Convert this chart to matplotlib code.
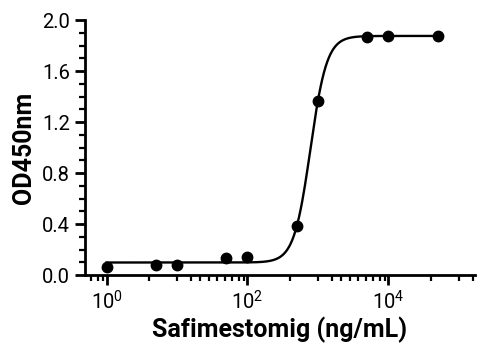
import numpy as np
import matplotlib
matplotlib.use("Agg")
import matplotlib.pyplot as plt
from matplotlib.ticker import FixedLocator, NullFormatter

plt.rcParams['font.family'] = ['Roboto', 'DejaVu Sans']
plt.rcParams['mathtext.fontset'] = 'custom'
plt.rcParams['mathtext.rm'] = 'Roboto'
plt.rcParams['mathtext.it'] = 'Roboto'

# Data
conc = [1, 5, 10, 50, 100, 500, 1000, 5000, 10000, 50000]
od450 = [0.065, 0.078, 0.078, 0.130, 0.144, 0.384, 1.365, 1.864, 1.877, 1.874]

# 4PL fit parameters
fit_bottom = 0.098
fit_top = 1.875
fit_logec50 = 2.894
fit_hill = 3.72

xtick_vals = [1, 100, 10000]
xtick_labels = [r'$\mathregular{10^{0}}$', r'$\mathregular{10^{2}}$', r'$\mathregular{10^{4}}$']
ytick_vals = [0.0, 0.4, 0.8, 1.2, 1.6, 2.0]
ytick_labels = ['0.0', '0.4', '0.8', '1.2', '1.6', '2.0']

fig = plt.figure(figsize=(4.85, 3.51), dpi=100)
ax = fig.add_axes([0.1753, 0.2165, 0.804, 0.7265])

xs = np.logspace(np.log10(min(conc)), np.log10(max(conc)), 400)
ys = fit_bottom + (fit_top - fit_bottom) / (1 + 10 ** ((fit_logec50 - np.log10(xs)) * fit_hill))
ax.plot(xs, ys, color='black', lw=1.7, zorder=2)
ax.plot(conc, od450, 'o', color='black', ms=7.5, zorder=3, clip_on=False)

ax.set_xscale('log')
ax.set_xlim(10 ** -0.305, 10 ** 5.23)
ax.set_ylim(0, 2.0)

ax.set_xticks(xtick_vals)
ax.set_xticklabels(xtick_labels)
# minor ticks (pattern repeating every two decades)
offs = [0.6, 1.0, 1.2, 1.33, 1.45, 1.57, 1.68, 1.78, 1.88, 1.95]
minors = []
for k in range(-2, 6, 2):
    for o in offs:
        v = k + o
        if -0.305 < v < 5.23:
            minors.append(10 ** v)
ax.xaxis.set_minor_locator(FixedLocator(minors))
ax.xaxis.set_minor_formatter(NullFormatter())

ax.set_yticks(ytick_vals)
ax.set_yticklabels(ytick_labels)
ax.yaxis.set_minor_locator(FixedLocator(np.arange(0, 2.01, 0.1)))

for s in ['top', 'right']:
    ax.spines[s].set_visible(False)
for s in ['left', 'bottom']:
    ax.spines[s].set_linewidth(2.0)

ax.tick_params(axis='both', which='major', length=7, width=2.0, labelsize=14.5, direction='out', pad=4)
ax.tick_params(axis='both', which='minor', length=4, width=1.6, direction='out')

ax.set_xlabel('Safimestomig (ng/mL)', fontsize=18, fontweight='bold', labelpad=2)
ax.set_ylabel('OD450nm', fontsize=18, fontweight='bold', labelpad=4)

fig.savefig('out.png', dpi=100)
